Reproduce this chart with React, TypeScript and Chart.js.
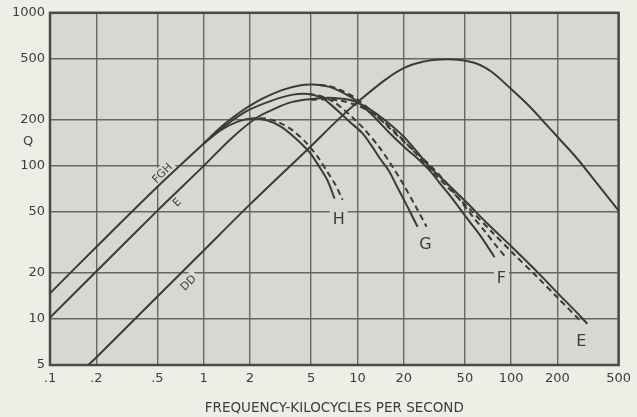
import React, { useEffect, useRef } from "react";
import { Chart, registerables } from "chart.js";

Chart.register(...registerables);

// ---- axis ticks ----
const xTicks = [0.1, 0.2, 0.5, 1, 2, 5, 10, 20, 50, 100, 200, 500];
const xTickLabels = [".1", ".2", ".5", "1", "2", "5", "10", "20", "50", "100", "200", "500"];
const yTicks = [5, 10, 20, 50, 100, 200, 500, 1000];
const yTickLabels = ["5", "10", "20", "50", "100", "200", "500", "1000"];

// ---- curves (frequency in kc, Q) ----
const fghFreq = [0.1, 0.2, 0.5, 1.0];
const fghQ = [14.7, 29.5, 73, 140];

const hSolidFreq = [1.0, 1.3, 1.7, 2.1, 2.6, 3.2, 4.0, 4.9, 5.6, 6.4, 7.1];
const hSolidQ = [140, 172, 196, 204, 198, 180, 150, 122, 100, 80, 61];
const hDashFreq = [2.0, 2.5, 3.1, 3.8, 4.6, 5.5, 6.3, 7.2, 8.0];
const hDashQ = [203, 204, 192, 170, 143, 115, 93, 75, 60];

const gSolidFreq = [1.0, 1.4, 1.9, 2.8, 3.8, 4.8, 5.8, 6.6, 7.7, 9.0, 10.8, 12.5, 13.9, 16, 18, 21, 24.6];
const gSolidQ = [140, 185, 228, 268, 292, 295, 280, 255, 222, 192, 163, 133, 113, 93, 74, 55, 40];
const gDashFreq = [4.8, 5.8, 7.0, 8.2, 9.3, 11, 13.9, 17, 20, 24, 28.2];
const gDashQ = [295, 285, 262, 232, 207, 175, 132, 98, 75, 54, 40];

const fSolidFreq = [1.0, 1.3, 1.72, 2.2, 2.69, 3.3, 4.21, 5.0, 5.68, 6.6, 7.8, 9.8, 12.5, 16, 21, 25, 29.6, 34, 42, 52, 63, 78];
const fSolidQ = [140, 180, 224, 262, 290, 315, 335, 340, 338, 328, 305, 267, 215, 166, 128, 110, 93, 78, 60, 45, 35, 25.3];
const fDashFreq = [5.68, 6.6, 7.8, 9.8, 12.5, 16, 21, 25, 30, 36, 44, 55, 68, 80, 93];
const fDashQ = [338, 332, 312, 276, 226, 178, 138, 118, 100, 82, 64, 48, 37, 30, 25];

const eSolidFreq = [0.1, 0.2, 0.5, 1.0, 1.5, 2.22, 3.0, 3.63, 4.5, 5.68, 7.0, 8.5, 9.8, 12, 15, 20, 25, 29.6, 34, 51, 70, 102, 150, 200, 250, 313];
const eSolidQ = [10.2, 20.4, 51, 100, 150, 207, 240, 259, 270, 277, 278, 272, 262, 235, 200, 155, 120, 98, 86, 58, 42, 29.3, 20, 14.8, 11.8, 9.3];
const eDashFreq = [5.0, 6.5, 8, 10, 13, 17, 22, 30, 40, 55, 75, 100, 150, 200, 280];
const eDashQ = [270, 272, 265, 248, 215, 172, 132, 94, 70, 51, 37, 27.6, 18.5, 13.8, 9.8];

const ddFreq = [0.177, 0.2, 0.5, 1, 2, 5, 7.66, 10.3, 15, 20, 27, 35, 45, 60, 75, 97.5, 130, 160, 200, 266, 350, 500];
const ddQ = [5, 5.6, 14, 28, 56, 135, 205, 267, 362, 435, 480, 495, 493, 465, 410, 325, 248, 198, 155, 113, 80, 51];

// ---- curve labels (text, position in data units) ----
const labelTexts = ["FGH", "E", "DD", "H", "G", "F", "E"];
const labelFreq = [0.534, 0.668, 0.79, 7.55, 27.7, 86.5, 286];
const labelQ = [90, 58, 17.3, 45, 31, 18.6, 7.2];
const labelRotated = [true, true, true, false, false, false, false];

const PAGE_BG = "#eeede6";
const PLOT_BG = "#d7d7d3";
const GRID = "#666662";
const INK = "#3b3b39";
const TEXT = "#3d3d3b";
const FONT = "'DejaVu Sans', sans-serif";

function pts(f: number[], q: number[]) {
  return f.map((v, i) => ({ x: v, y: q[i] }));
}

function ds(f: number[], q: number[], dashed: boolean) {
  return {
    data: pts(f, q),
    borderColor: INK,
    borderWidth: 2,
    borderDash: dashed ? [6, 4] : [],
    pointRadius: 0,
    showLine: true,
    fill: false,
    tension: 0.3,
  };
}

const paperPlugin = {
  id: "paper",
  beforeDraw(chart: any) {
    const { ctx, chartArea: a } = chart;
    ctx.save();
    ctx.fillStyle = PAGE_BG;
    ctx.fillRect(0, 0, chart.width, chart.height);
    ctx.fillStyle = PLOT_BG;
    ctx.fillRect(a.left, a.top, a.right - a.left, a.bottom - a.top);
    ctx.restore();
  },
  beforeDatasetsDraw(chart: any) {
    const { ctx, chartArea: a, scales } = chart;
    const xs = scales.x;
    const ys = scales.y;
    ctx.save();
    ctx.strokeStyle = "#4a4a47";
    ctx.lineWidth = 2.5;
    ctx.strokeRect(a.left, a.top, a.right - a.left, a.bottom - a.top);
    ctx.textAlign = "center";
    ctx.textBaseline = "middle";
    labelTexts.forEach((t, i) => {
      const px = xs.getPixelForValue(labelFreq[i]);
      const py = ys.getPixelForValue(labelQ[i]);
      ctx.save();
      ctx.translate(px, py);
      if (labelRotated[i]) ctx.rotate(-Math.PI / 4);
      const size = labelRotated[i] ? 11 : 16;
      ctx.font = `${size}px ${FONT}`;
      const w = ctx.measureText(t).width;
      ctx.fillStyle = PLOT_BG;
      ctx.fillRect(-w / 2 - 3, -size / 2 - 1, w + 6, size + 2);
      ctx.fillStyle = TEXT;
      ctx.fillText(t, 0, 1);
      ctx.restore();
    });
    // Q axis label
    ctx.font = `13px ${FONT}`;
    ctx.fillStyle = TEXT;
    ctx.fillText("Q", 28, ys.getPixelForValue(144));
    ctx.restore();
  },
};

export default function App() {
  const ref = useRef<HTMLCanvasElement | null>(null);
  useEffect(() => {
    if (!ref.current) return;
    const chart = new Chart(ref.current, {
      type: "scatter",
      data: {
        datasets: [
          ds(fghFreq, fghQ, false),
          ds(hSolidFreq, hSolidQ, false),
          ds(hDashFreq, hDashQ, true),
          ds(gSolidFreq, gSolidQ, false),
          ds(gDashFreq, gDashQ, true),
          ds(fSolidFreq, fSolidQ, false),
          ds(fDashFreq, fDashQ, true),
          ds(eSolidFreq, eSolidQ, false),
          ds(eDashFreq, eDashQ, true),
          ds(ddFreq, ddQ, false),
        ] as any,
      },
      options: {
        animation: false,
        responsive: true,
        maintainAspectRatio: false,
        layout: { padding: { top: 12, right: 17, left: 0, bottom: 0 } },
        plugins: { legend: { display: false }, tooltip: { enabled: false } },
        scales: {
          x: {
            type: "logarithmic",
            min: 0.1,
            max: 500,
            afterBuildTicks: (s: any) => {
              s.ticks = xTicks.map((v) => ({ value: v }));
            },
            afterFit: (s: any) => {
              s.height = 52;
            },
            ticks: {
              autoSkip: false,
              maxRotation: 0,
              padding: 6,
              color: TEXT,
              font: { family: FONT, size: 13 },
              callback: (_v: any, i: number) => xTickLabels[i],
            },
            grid: { color: GRID, lineWidth: 1.4, drawTicks: false },
            border: { color: GRID, width: 2 },
            title: {
              display: true,
              text: "FREQUENCY-KILOCYCLES PER SECOND",
              color: TEXT,
              font: { family: FONT, size: 13.5 },
              padding: { top: 3, bottom: 0 },
            },
          },
          y: {
            type: "logarithmic",
            min: 5,
            max: 1000,
            afterBuildTicks: (s: any) => {
              s.ticks = yTicks.map((v) => ({ value: v }));
            },
            afterFit: (s: any) => {
              s.width = 50;
            },
            ticks: {
              autoSkip: false,
              padding: 5,
              color: TEXT,
              font: { family: FONT, size: 13 },
              callback: (_v: any, i: number) => yTickLabels[i],
            },
            grid: { color: GRID, lineWidth: 1.4, drawTicks: false },
            border: { color: GRID, width: 2 },
          },
        },
      } as any,
      plugins: [paperPlugin],
    });
    return () => chart.destroy();
  }, []);
  return (
    <div style={{ position: "absolute", left: 0, top: 0, width: 637, height: 417, background: PAGE_BG }}>
      <canvas ref={ref} />
    </div>
  );
}
